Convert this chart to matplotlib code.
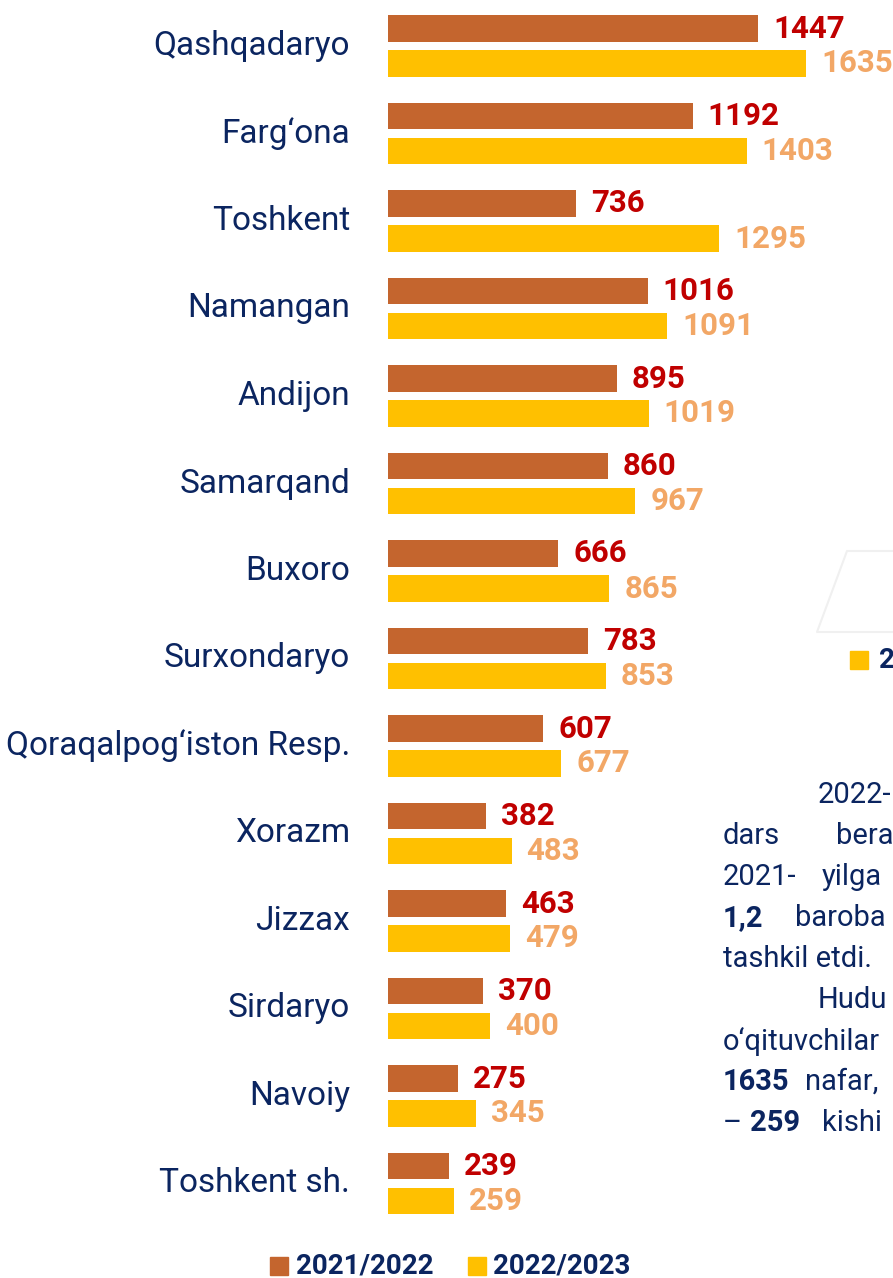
import matplotlib
matplotlib.use("Agg")
import matplotlib.pyplot as plt
from matplotlib.patches import Rectangle

# data
regions = ["Qashqadaryo", "Farg\u2018ona", "Toshkent", "Namangan", "Andijon",
           "Samarqand", "Buxoro", "Surxondaryo", "Qoraqalpog\u2018iston Resp.",
           "Xorazm", "Jizzax", "Sirdaryo", "Navoiy", "Toshkent sh."]
val_2122 = [1447, 1192, 736, 1016, 895, 860, 666, 783, 607, 382, 463, 370, 275, 239]
val_2223 = [1635, 1403, 1295, 1091, 1019, 967, 865, 853, 677, 483, 479, 400, 345, 259]
legend_labels = ["2021/2022", "2022/2023"]

c_orange = "#C4652E"
c_yellow = "#FFC000"
c_lab1 = "#C00000"
c_lab2 = "#F2A766"
navy = "#0B2560"

plt.rcParams['font.family'] = ['Roboto', 'DejaVu Sans']

W, H = 893, 1278
fig = plt.figure(figsize=(W / 100, H / 100), dpi=100)

# bar axes: left edge at 388 px, 0.2557 px per unit
ax = fig.add_axes([388 / W, 0, 505 / W, 1])
ax.set_xlim(0, 505 / 0.2557)
step = 87.5
ax.set_ylim((H - 46) / step, -46 / step)
ax.axis("off")

ypos = list(range(len(regions)))
ax.barh([y - 0.2 for y in ypos], val_2122, height=0.3, color=c_orange, zorder=2)
ax.barh([y + 0.2 for y in ypos], val_2223, height=0.3, color=c_yellow, zorder=2)

for y, v1, v2, name in zip(ypos, val_2122, val_2223, regions):
    ax.annotate(str(v1), (v1, y - 0.2), xytext=(15, 0), textcoords="offset pixels",
                ha="left", va="center", fontsize=22.5, fontweight="bold", color=c_lab1)
    ax.annotate(str(v2), (v2, y + 0.2), xytext=(15, 0), textcoords="offset pixels",
                ha="left", va="center", fontsize=22.5, fontweight="bold", color=c_lab2)
    ax.annotate(name, (0, y), xytext=(-38, 0), textcoords="offset pixels",
                ha="right", va="center", fontsize=24, color=navy, annotation_clip=False)

# legend at bottom
def px(x, y):
    return x / W, 1 - y / H

fig.patches.append(Rectangle(px(270, 1275), 18 / W, 18 / H, transform=fig.transFigure,
                             color=c_orange))
fig.text(*px(296, 1266), legend_labels[0], ha="left", va="center", fontsize=20,
         fontweight="bold", color=navy)
fig.patches.append(Rectangle(px(468, 1275), 18 / W, 18 / H, transform=fig.transFigure,
                             color=c_yellow))
fig.text(*px(493, 1266), legend_labels[1], ha="left", va="center", fontsize=20,
         fontweight="bold", color=navy)

# pieces of the neighbouring chart / paragraph cut by the page crop
fig.add_artist(plt.Line2D([950 / W, 847 / W, 817 / W, 950 / W],
                          [1 - 551 / H, 1 - 551 / H, 1 - 632 / H, 1 - 632 / H],
                          transform=fig.transFigure, color="#F0F0F0", lw=1.5))
fig.patches.append(Rectangle(px(850, 669), 18 / W, 18 / H, transform=fig.transFigure,
                             color=c_yellow))
fig.text(*px(879, 661), "2", ha="left", va="center", fontsize=20,
         fontweight="bold", color=navy)

para = [
    [(818, "2022-", False)],
    [(723, "dars", False), (836, "bera", False)],
    [(723, "2021-", False), (822, "yilga", False)],
    [(723, "1,2", True), (795, "baroba", False)],
    [(723, "tashkil etdi.", False)],
    [(818, "Hudu", False)],
    [(723, "o\u2018qituvchilar", False)],
    [(723, "1635", True), (805, "nafar,", False)],
    [(723, "\u2013", False), (750, "259", True), (822, "kishi", False)],
]
for i, line in enumerate(para):
    yy = 795 + 41 * i
    for x0, word, bold in line:
        fig.text(*px(x0, yy), word, ha="left", va="center", fontsize=21,
                 fontweight="bold" if bold else "normal", color=navy)

fig.savefig("out.png", dpi=100, facecolor="white")
